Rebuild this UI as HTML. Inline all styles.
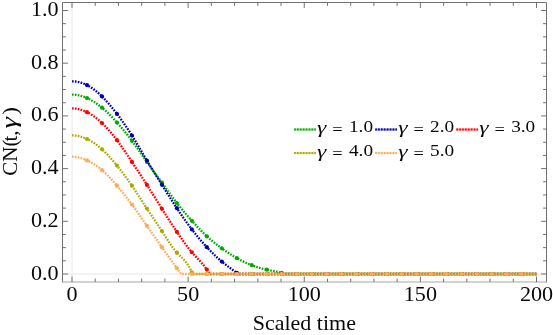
<!DOCTYPE html>
<html><head><meta charset="utf-8"><title>Chart</title>
<style>html,body{margin:0;padding:0;background:#fff;}body{width:553px;height:335px;overflow:hidden;font-family:"Liberation Serif",serif;}svg{display:block;}.t text,.t tspan{font-family:"Liberation Serif",serif;}</style></head>
<body>
<svg width="553" height="335" viewBox="0 0 553 335">
<rect width="553" height="335" fill="#fff"/>
<line x1="72.0" y1="2.5" x2="72.0" y2="282.0" stroke="#e8e8e8" stroke-width="1"/>
<line x1="62.5" y1="274.0" x2="546.5" y2="274.0" stroke="#e8e8e8" stroke-width="1"/>
<path d="M72.00,94.60 L72.50,94.60 L73.00,94.62 L73.50,94.64 L74.00,94.67 L74.50,94.70 L75.00,94.75 L75.50,94.80 L76.00,94.86 L76.50,94.93 L77.00,95.01 L77.50,95.10 L78.00,95.19 L78.50,95.29 L79.00,95.40 L79.50,95.51 L80.00,95.64 L80.50,95.77 L81.00,95.90 L81.50,96.05 L82.00,96.20 L82.50,96.36 L83.00,96.53 L83.50,96.70 L84.00,96.88 L84.50,97.07 L85.00,97.26 L85.50,97.46 L86.00,97.67 L86.50,97.89 L87.00,98.11 L87.50,98.33 L88.00,98.57 L88.50,98.81 L89.00,99.06 L89.50,99.31 L90.00,99.57 L90.50,99.84 L91.00,100.11 L91.50,100.39 L92.00,100.67 L92.50,100.97 L93.00,101.26 L93.50,101.57 L94.00,101.88 L94.50,102.20 L95.00,102.52 L95.50,102.85 L96.00,103.19 L96.50,103.53 L97.00,103.88 L97.50,104.24 L98.00,104.60 L98.50,104.97 L99.00,105.35 L99.50,105.73 L100.00,106.11 L100.50,106.51 L101.00,106.91 L101.50,107.31 L102.00,107.73 L102.50,108.15 L103.00,108.57 L103.50,109.00 L104.00,109.44 L104.50,109.88 L105.00,110.33 L105.50,110.78 L106.00,111.24 L106.50,111.71 L107.00,112.18 L107.50,112.66 L108.00,113.14 L108.50,113.62 L109.00,114.11 L109.50,114.61 L110.00,115.11 L110.50,115.61 L111.00,116.12 L111.50,116.64 L112.00,117.16 L112.50,117.68 L113.00,118.21 L113.50,118.74 L114.00,119.27 L114.50,119.81 L115.00,120.35 L115.50,120.90 L116.00,121.45 L116.50,122.00 L117.00,122.55 L117.50,123.11 L118.00,123.68 L118.50,124.24 L119.00,124.81 L119.50,125.38 L120.00,125.96 L120.50,126.54 L121.00,127.12 L121.50,127.71 L122.00,128.29 L122.50,128.89 L123.00,129.48 L123.50,130.09 L124.00,130.69 L124.50,131.30 L125.00,131.91 L125.50,132.52 L126.00,133.14 L126.50,133.77 L127.00,134.39 L127.50,135.02 L128.00,135.66 L128.50,136.30 L129.00,136.94 L129.50,137.59 L130.00,138.24 L130.50,138.89 L131.00,139.55 L131.50,140.22 L132.00,140.89 L132.50,141.56 L133.00,142.24 L133.50,142.92 L134.00,143.60 L134.50,144.29 L135.00,144.98 L135.50,145.67 L136.00,146.37 L136.50,147.07 L137.00,147.77 L137.50,148.47 L138.00,149.18 L138.50,149.89 L139.00,150.60 L139.50,151.31 L140.00,152.02 L140.50,152.73 L141.00,153.45 L141.50,154.16 L142.00,154.88 L142.50,155.59 L143.00,156.31 L143.50,157.03 L144.00,157.74 L144.50,158.46 L145.00,159.17 L145.50,159.88 L146.00,160.59 L146.50,161.31 L147.00,162.01 L147.50,162.72 L148.00,163.43 L148.50,164.13 L149.00,164.83 L149.50,165.53 L150.00,166.23 L150.50,166.93 L151.00,167.63 L151.50,168.33 L152.00,169.02 L152.50,169.72 L153.00,170.41 L153.50,171.10 L154.00,171.80 L154.50,172.49 L155.00,173.18 L155.50,173.87 L156.00,174.56 L156.50,175.25 L157.00,175.94 L157.50,176.63 L158.00,177.32 L158.50,178.00 L159.00,178.69 L159.50,179.38 L160.00,180.07 L160.50,180.76 L161.00,181.45 L161.50,182.14 L162.00,182.83 L162.50,183.53 L163.00,184.22 L163.50,184.91 L164.00,185.60 L164.50,186.29 L165.00,186.99 L165.50,187.68 L166.00,188.37 L166.50,189.06 L167.00,189.75 L167.50,190.44 L168.00,191.13 L168.50,191.81 L169.00,192.50 L169.50,193.18 L170.00,193.86 L170.50,194.54 L171.00,195.22 L171.50,195.90 L172.00,196.57 L172.50,197.24 L173.00,197.91 L173.50,198.58 L174.00,199.24 L174.50,199.90 L175.00,200.55 L175.50,201.21 L176.00,201.86 L176.50,202.50 L177.00,203.14 L177.50,203.78 L178.00,204.42 L178.50,205.05 L179.00,205.67 L179.50,206.30 L180.00,206.92 L180.50,207.53 L181.00,208.15 L181.50,208.75 L182.00,209.36 L182.50,209.96 L183.00,210.56 L183.50,211.16 L184.00,211.76 L184.50,212.35 L185.00,212.94 L185.50,213.52 L186.00,214.11 L186.50,214.69 L187.00,215.27 L187.50,215.84 L188.00,216.42 L188.50,216.99 L189.00,217.56 L189.50,218.13 L190.00,218.70 L190.50,219.26 L191.00,219.82 L191.50,220.38 L192.00,220.94 L192.50,221.50 L193.00,222.06 L193.50,222.61 L194.00,223.17 L194.50,223.72 L195.00,224.27 L195.50,224.81 L196.00,225.36 L196.50,225.90 L197.00,226.44 L197.50,226.98 L198.00,227.51 L198.50,228.04 L199.00,228.57 L199.50,229.09 L200.00,229.61 L200.50,230.13 L201.00,230.64 L201.50,231.15 L202.00,231.66 L202.50,232.16 L203.00,232.66 L203.50,233.15 L204.00,233.64 L204.50,234.13 L205.00,234.61 L205.50,235.09 L206.00,235.56 L206.50,236.02 L207.00,236.48 L207.50,236.94 L208.00,237.39 L208.50,237.84 L209.00,238.28 L209.50,238.71 L210.00,239.14 L210.50,239.57 L211.00,239.99 L211.50,240.41 L212.00,240.83 L212.50,241.24 L213.00,241.65 L213.50,242.05 L214.00,242.45 L214.50,242.85 L215.00,243.24 L215.50,243.63 L216.00,244.02 L216.50,244.40 L217.00,244.78 L217.50,245.16 L218.00,245.54 L218.50,245.91 L219.00,246.28 L219.50,246.65 L220.00,247.02 L220.50,247.38 L221.00,247.74 L221.50,248.11 L222.00,248.47 L222.50,248.82 L223.00,249.18 L223.50,249.54 L224.00,249.89 L224.50,250.24 L225.00,250.59 L225.50,250.94 L226.00,251.28 L226.50,251.63 L227.00,251.97 L227.50,252.31 L228.00,252.65 L228.50,252.98 L229.00,253.31 L229.50,253.64 L230.00,253.97 L230.50,254.30 L231.00,254.62 L231.50,254.94 L232.00,255.25 L232.50,255.57 L233.00,255.88 L233.50,256.19 L234.00,256.49 L234.50,256.79 L235.00,257.09 L235.50,257.39 L236.00,257.68 L236.50,257.97 L237.00,258.25 L237.50,258.53 L238.00,258.81 L238.50,259.08 L239.00,259.35 L239.50,259.62 L240.00,259.88 L240.50,260.15 L241.00,260.40 L241.50,260.66 L242.00,260.91 L242.50,261.15 L243.00,261.40 L243.50,261.64 L244.00,261.88 L244.50,262.11 L245.00,262.34 L245.50,262.57 L246.00,262.80 L246.50,263.02 L247.00,263.24 L247.50,263.45 L248.00,263.67 L248.50,263.88 L249.00,264.09 L249.50,264.29 L250.00,264.49 L250.50,264.69 L251.00,264.89 L251.50,265.08 L252.00,265.27 L252.50,265.46 L253.00,265.65 L253.50,265.83 L254.00,266.01 L254.50,266.19 L255.00,266.36 L255.50,266.54 L256.00,266.71 L256.50,266.87 L257.00,267.04 L257.50,267.20 L258.00,267.36 L258.50,267.51 L259.00,267.67 L259.50,267.82 L260.00,267.96 L260.50,268.11 L261.00,268.25 L261.50,268.39 L262.00,268.53 L262.50,268.66 L263.00,268.79 L263.50,268.92 L264.00,269.05 L264.50,269.17 L265.00,269.29 L265.50,269.41 L266.00,269.52 L266.50,269.64 L267.00,269.75 L267.50,269.85 L268.00,269.96 L268.50,270.06 L269.00,270.16 L269.50,270.26 L270.00,270.35 L270.50,270.45 L271.00,270.55 L271.50,270.64 L272.00,270.73 L272.50,270.83 L273.00,270.92 L273.50,271.02 L274.00,271.11 L274.50,271.21 L275.00,271.31 L275.50,271.41 L276.00,271.51 L276.50,271.61 L277.00,271.72 L277.50,271.83 L278.00,271.94 L278.50,272.05 L279.00,272.17 L279.50,272.29 L280.00,272.42 L280.50,272.55 L281.00,272.68 L281.50,272.82 L282.00,272.97 L282.50,273.11 L283.00,273.27 L283.50,273.42 L284.00,273.58 L284.50,273.74 L285.00,273.90 L285.30,274.00 L536.50,274.00" fill="none" stroke="#00AA00" stroke-width="2.3" stroke-dasharray="1.65 1.25"/>
<circle cx="86.98" cy="98.10" r="2.1" fill="#00AA00"/>
<circle cx="101.97" cy="107.70" r="2.1" fill="#00AA00"/>
<circle cx="116.95" cy="122.50" r="2.1" fill="#00AA00"/>
<circle cx="131.94" cy="140.80" r="2.1" fill="#00AA00"/>
<circle cx="146.92" cy="161.90" r="2.1" fill="#00AA00"/>
<circle cx="161.90" cy="182.70" r="2.1" fill="#00AA00"/>
<circle cx="176.89" cy="203.00" r="2.1" fill="#00AA00"/>
<circle cx="191.87" cy="220.80" r="2.1" fill="#00AA00"/>
<circle cx="206.85" cy="236.35" r="2.1" fill="#00AA00"/>
<circle cx="221.84" cy="248.35" r="2.1" fill="#00AA00"/>
<circle cx="236.82" cy="258.15" r="2.1" fill="#00AA00"/>
<circle cx="251.81" cy="265.20" r="2.1" fill="#00AA00"/>
<circle cx="266.79" cy="269.70" r="2.1" fill="#00AA00"/>
<circle cx="281.77" cy="272.90" r="2.1" fill="#00AA00"/>
<circle cx="296.76" cy="274.00" r="2.1" fill="#00AA00"/>
<circle cx="311.74" cy="274.00" r="2.1" fill="#00AA00"/>
<circle cx="326.73" cy="274.00" r="2.1" fill="#00AA00"/>
<circle cx="341.71" cy="274.00" r="2.1" fill="#00AA00"/>
<circle cx="356.69" cy="274.00" r="2.1" fill="#00AA00"/>
<circle cx="371.68" cy="274.00" r="2.1" fill="#00AA00"/>
<circle cx="386.66" cy="274.00" r="2.1" fill="#00AA00"/>
<circle cx="401.65" cy="274.00" r="2.1" fill="#00AA00"/>
<circle cx="416.63" cy="274.00" r="2.1" fill="#00AA00"/>
<circle cx="431.61" cy="274.00" r="2.1" fill="#00AA00"/>
<circle cx="446.60" cy="274.00" r="2.1" fill="#00AA00"/>
<circle cx="461.58" cy="274.00" r="2.1" fill="#00AA00"/>
<circle cx="476.56" cy="274.00" r="2.1" fill="#00AA00"/>
<circle cx="491.55" cy="274.00" r="2.1" fill="#00AA00"/>
<circle cx="506.53" cy="274.00" r="2.1" fill="#00AA00"/>
<circle cx="521.52" cy="274.00" r="2.1" fill="#00AA00"/>
<path d="M72.00,81.30 L72.50,81.30 L73.00,81.32 L73.50,81.34 L74.00,81.37 L74.50,81.41 L75.00,81.45 L75.50,81.51 L76.00,81.57 L76.50,81.64 L77.00,81.72 L77.50,81.81 L78.00,81.91 L78.50,82.01 L79.00,82.13 L79.50,82.25 L80.00,82.38 L80.50,82.52 L81.00,82.67 L81.50,82.82 L82.00,82.99 L82.50,83.16 L83.00,83.34 L83.50,83.53 L84.00,83.73 L84.50,83.94 L85.00,84.16 L85.50,84.38 L86.00,84.62 L86.50,84.86 L87.00,85.11 L87.50,85.37 L88.00,85.64 L88.50,85.91 L89.00,86.20 L89.50,86.49 L90.00,86.79 L90.50,87.10 L91.00,87.42 L91.50,87.75 L92.00,88.08 L92.50,88.42 L93.00,88.77 L93.50,89.13 L94.00,89.50 L94.50,89.88 L95.00,90.26 L95.50,90.65 L96.00,91.05 L96.50,91.45 L97.00,91.87 L97.50,92.29 L98.00,92.72 L98.50,93.16 L99.00,93.60 L99.50,94.06 L100.00,94.52 L100.50,94.98 L101.00,95.46 L101.50,95.94 L102.00,96.43 L102.50,96.93 L103.00,97.43 L103.50,97.94 L104.00,98.46 L104.50,98.99 L105.00,99.52 L105.50,100.06 L106.00,100.60 L106.50,101.15 L107.00,101.71 L107.50,102.27 L108.00,102.84 L108.50,103.42 L109.00,104.00 L109.50,104.59 L110.00,105.18 L110.50,105.78 L111.00,106.38 L111.50,106.98 L112.00,107.60 L112.50,108.21 L113.00,108.84 L113.50,109.46 L114.00,110.09 L114.50,110.73 L115.00,111.37 L115.50,112.01 L116.00,112.66 L116.50,113.31 L117.00,113.96 L117.50,114.62 L118.00,115.28 L118.50,115.95 L119.00,116.62 L119.50,117.29 L120.00,117.97 L120.50,118.65 L121.00,119.34 L121.50,120.03 L122.00,120.72 L122.50,121.42 L123.00,122.12 L123.50,122.83 L124.00,123.54 L124.50,124.26 L125.00,124.98 L125.50,125.70 L126.00,126.43 L126.50,127.17 L127.00,127.91 L127.50,128.66 L128.00,129.41 L128.50,130.16 L129.00,130.92 L129.50,131.69 L130.00,132.46 L130.50,133.24 L131.00,134.02 L131.50,134.81 L132.00,135.60 L132.50,136.40 L133.00,137.21 L133.50,138.02 L134.00,138.83 L134.50,139.65 L135.00,140.48 L135.50,141.30 L136.00,142.14 L136.50,142.97 L137.00,143.81 L137.50,144.65 L138.00,145.49 L138.50,146.34 L139.00,147.18 L139.50,148.03 L140.00,148.88 L140.50,149.73 L141.00,150.58 L141.50,151.43 L142.00,152.29 L142.50,153.14 L143.00,153.99 L143.50,154.84 L144.00,155.69 L144.50,156.53 L145.00,157.38 L145.50,158.22 L146.00,159.06 L146.50,159.90 L147.00,160.73 L147.50,161.57 L148.00,162.39 L148.50,163.22 L149.00,164.04 L149.50,164.86 L150.00,165.68 L150.50,166.50 L151.00,167.31 L151.50,168.12 L152.00,168.93 L152.50,169.73 L153.00,170.54 L153.50,171.34 L154.00,172.14 L154.50,172.94 L155.00,173.74 L155.50,174.54 L156.00,175.34 L156.50,176.13 L157.00,176.93 L157.50,177.72 L158.00,178.51 L158.50,179.31 L159.00,180.10 L159.50,180.89 L160.00,181.68 L160.50,182.47 L161.00,183.27 L161.50,184.06 L162.00,184.85 L162.50,185.65 L163.00,186.44 L163.50,187.24 L164.00,188.03 L164.50,188.83 L165.00,189.62 L165.50,190.41 L166.00,191.21 L166.50,192.00 L167.00,192.80 L167.50,193.59 L168.00,194.38 L168.50,195.17 L169.00,195.96 L169.50,196.75 L170.00,197.54 L170.50,198.32 L171.00,199.11 L171.50,199.89 L172.00,200.67 L172.50,201.45 L173.00,202.23 L173.50,203.01 L174.00,203.78 L174.50,204.55 L175.00,205.32 L175.50,206.09 L176.00,206.85 L176.50,207.61 L177.00,208.37 L177.50,209.13 L178.00,209.88 L178.50,210.63 L179.00,211.37 L179.50,212.12 L180.00,212.86 L180.50,213.59 L181.00,214.33 L181.50,215.06 L182.00,215.78 L182.50,216.51 L183.00,217.23 L183.50,217.94 L184.00,218.66 L184.50,219.37 L185.00,220.07 L185.50,220.77 L186.00,221.47 L186.50,222.17 L187.00,222.86 L187.50,223.55 L188.00,224.23 L188.50,224.91 L189.00,225.59 L189.50,226.26 L190.00,226.93 L190.50,227.60 L191.00,228.26 L191.50,228.92 L192.00,229.57 L192.50,230.22 L193.00,230.86 L193.50,231.50 L194.00,232.14 L194.50,232.77 L195.00,233.40 L195.50,234.03 L196.00,234.65 L196.50,235.26 L197.00,235.88 L197.50,236.49 L198.00,237.09 L198.50,237.69 L199.00,238.29 L199.50,238.89 L200.00,239.48 L200.50,240.06 L201.00,240.65 L201.50,241.22 L202.00,241.80 L202.50,242.37 L203.00,242.94 L203.50,243.50 L204.00,244.07 L204.50,244.62 L205.00,245.18 L205.50,245.73 L206.00,246.27 L206.50,246.82 L207.00,247.36 L207.50,247.89 L208.00,248.43 L208.50,248.95 L209.00,249.48 L209.50,250.00 L210.00,250.52 L210.50,251.03 L211.00,251.54 L211.50,252.05 L212.00,252.55 L212.50,253.05 L213.00,253.55 L213.50,254.04 L214.00,254.53 L214.50,255.01 L215.00,255.49 L215.50,255.96 L216.00,256.43 L216.50,256.90 L217.00,257.36 L217.50,257.82 L218.00,258.27 L218.50,258.72 L219.00,259.16 L219.50,259.60 L220.00,260.04 L220.50,260.47 L221.00,260.90 L221.50,261.32 L222.00,261.73 L222.50,262.15 L223.00,262.55 L223.50,262.96 L224.00,263.36 L224.50,263.75 L225.00,264.14 L225.50,264.53 L226.00,264.92 L226.50,265.30 L227.00,265.68 L227.50,266.06 L228.00,266.43 L228.50,266.80 L229.00,267.18 L229.50,267.54 L230.00,267.91 L230.50,268.28 L231.00,268.64 L231.50,269.01 L232.00,269.37 L232.50,269.74 L233.00,270.10 L233.50,270.46 L234.00,270.83 L234.50,271.19 L235.00,271.56 L235.50,271.93 L236.00,272.29 L236.50,272.66 L237.00,273.03 L237.50,273.40 L238.00,273.78 L238.30,274.00 L536.50,274.00" fill="none" stroke="#0000AA" stroke-width="2.3" stroke-dasharray="1.65 1.25"/>
<circle cx="86.98" cy="85.10" r="2.1" fill="#0000AA"/>
<circle cx="101.97" cy="96.40" r="2.1" fill="#0000AA"/>
<circle cx="116.95" cy="113.90" r="2.1" fill="#0000AA"/>
<circle cx="131.94" cy="135.50" r="2.1" fill="#0000AA"/>
<circle cx="146.92" cy="160.60" r="2.1" fill="#0000AA"/>
<circle cx="161.90" cy="184.70" r="2.1" fill="#0000AA"/>
<circle cx="176.89" cy="208.20" r="2.1" fill="#0000AA"/>
<circle cx="191.87" cy="229.40" r="2.1" fill="#0000AA"/>
<circle cx="206.85" cy="247.20" r="2.1" fill="#0000AA"/>
<circle cx="221.84" cy="261.60" r="2.1" fill="#0000AA"/>
<circle cx="236.82" cy="272.90" r="2.1" fill="#0000AA"/>
<circle cx="251.81" cy="274.00" r="2.1" fill="#0000AA"/>
<circle cx="266.79" cy="274.00" r="2.1" fill="#0000AA"/>
<circle cx="281.77" cy="274.00" r="2.1" fill="#0000AA"/>
<circle cx="296.76" cy="274.00" r="2.1" fill="#0000AA"/>
<circle cx="311.74" cy="274.00" r="2.1" fill="#0000AA"/>
<circle cx="326.73" cy="274.00" r="2.1" fill="#0000AA"/>
<circle cx="341.71" cy="274.00" r="2.1" fill="#0000AA"/>
<circle cx="356.69" cy="274.00" r="2.1" fill="#0000AA"/>
<circle cx="371.68" cy="274.00" r="2.1" fill="#0000AA"/>
<circle cx="386.66" cy="274.00" r="2.1" fill="#0000AA"/>
<circle cx="401.65" cy="274.00" r="2.1" fill="#0000AA"/>
<circle cx="416.63" cy="274.00" r="2.1" fill="#0000AA"/>
<circle cx="431.61" cy="274.00" r="2.1" fill="#0000AA"/>
<circle cx="446.60" cy="274.00" r="2.1" fill="#0000AA"/>
<circle cx="461.58" cy="274.00" r="2.1" fill="#0000AA"/>
<circle cx="476.56" cy="274.00" r="2.1" fill="#0000AA"/>
<circle cx="491.55" cy="274.00" r="2.1" fill="#0000AA"/>
<circle cx="506.53" cy="274.00" r="2.1" fill="#0000AA"/>
<circle cx="521.52" cy="274.00" r="2.1" fill="#0000AA"/>
<path d="M72.00,108.40 L72.50,108.40 L73.00,108.42 L73.50,108.44 L74.00,108.47 L74.50,108.51 L75.00,108.56 L75.50,108.61 L76.00,108.68 L76.50,108.75 L77.00,108.84 L77.50,108.93 L78.00,109.03 L78.50,109.13 L79.00,109.25 L79.50,109.37 L80.00,109.51 L80.50,109.65 L81.00,109.80 L81.50,109.95 L82.00,110.12 L82.50,110.29 L83.00,110.47 L83.50,110.66 L84.00,110.86 L84.50,111.07 L85.00,111.28 L85.50,111.50 L86.00,111.73 L86.50,111.96 L87.00,112.21 L87.50,112.46 L88.00,112.72 L88.50,112.99 L89.00,113.26 L89.50,113.54 L90.00,113.83 L90.50,114.13 L91.00,114.44 L91.50,114.75 L92.00,115.07 L92.50,115.40 L93.00,115.73 L93.50,116.07 L94.00,116.42 L94.50,116.78 L95.00,117.15 L95.50,117.52 L96.00,117.90 L96.50,118.29 L97.00,118.68 L97.50,119.08 L98.00,119.49 L98.50,119.91 L99.00,120.33 L99.50,120.76 L100.00,121.20 L100.50,121.65 L101.00,122.10 L101.50,122.56 L102.00,123.03 L102.50,123.51 L103.00,123.99 L103.50,124.48 L104.00,124.97 L104.50,125.48 L105.00,125.99 L105.50,126.50 L106.00,127.03 L106.50,127.56 L107.00,128.10 L107.50,128.64 L108.00,129.19 L108.50,129.75 L109.00,130.32 L109.50,130.89 L110.00,131.47 L110.50,132.05 L111.00,132.64 L111.50,133.24 L112.00,133.84 L112.50,134.45 L113.00,135.07 L113.50,135.69 L114.00,136.32 L114.50,136.95 L115.00,137.59 L115.50,138.24 L116.00,138.89 L116.50,139.55 L117.00,140.21 L117.50,140.88 L118.00,141.56 L118.50,142.24 L119.00,142.93 L119.50,143.62 L120.00,144.31 L120.50,145.02 L121.00,145.72 L121.50,146.43 L122.00,147.14 L122.50,147.86 L123.00,148.58 L123.50,149.31 L124.00,150.04 L124.50,150.77 L125.00,151.50 L125.50,152.24 L126.00,152.98 L126.50,153.72 L127.00,154.47 L127.50,155.21 L128.00,155.96 L128.50,156.71 L129.00,157.47 L129.50,158.22 L130.00,158.97 L130.50,159.73 L131.00,160.48 L131.50,161.24 L132.00,162.00 L132.50,162.75 L133.00,163.51 L133.50,164.27 L134.00,165.03 L134.50,165.79 L135.00,166.55 L135.50,167.31 L136.00,168.07 L136.50,168.83 L137.00,169.59 L137.50,170.35 L138.00,171.11 L138.50,171.88 L139.00,172.64 L139.50,173.41 L140.00,174.17 L140.50,174.94 L141.00,175.71 L141.50,176.48 L142.00,177.25 L142.50,178.02 L143.00,178.79 L143.50,179.57 L144.00,180.34 L144.50,181.12 L145.00,181.90 L145.50,182.68 L146.00,183.46 L146.50,184.24 L147.00,185.03 L147.50,185.81 L148.00,186.60 L148.50,187.39 L149.00,188.18 L149.50,188.97 L150.00,189.76 L150.50,190.56 L151.00,191.35 L151.50,192.15 L152.00,192.94 L152.50,193.74 L153.00,194.54 L153.50,195.34 L154.00,196.13 L154.50,196.93 L155.00,197.73 L155.50,198.53 L156.00,199.33 L156.50,200.13 L157.00,200.93 L157.50,201.73 L158.00,202.53 L158.50,203.33 L159.00,204.13 L159.50,204.92 L160.00,205.72 L160.50,206.52 L161.00,207.31 L161.50,208.11 L162.00,208.90 L162.50,209.70 L163.00,210.49 L163.50,211.28 L164.00,212.07 L164.50,212.86 L165.00,213.64 L165.50,214.43 L166.00,215.22 L166.50,216.00 L167.00,216.78 L167.50,217.56 L168.00,218.34 L168.50,219.12 L169.00,219.89 L169.50,220.67 L170.00,221.44 L170.50,222.21 L171.00,222.98 L171.50,223.75 L172.00,224.51 L172.50,225.28 L173.00,226.04 L173.50,226.80 L174.00,227.56 L174.50,228.32 L175.00,229.07 L175.50,229.82 L176.00,230.57 L176.50,231.32 L177.00,232.07 L177.50,232.81 L178.00,233.55 L178.50,234.29 L179.00,235.03 L179.50,235.76 L180.00,236.49 L180.50,237.22 L181.00,237.94 L181.50,238.65 L182.00,239.37 L182.50,240.08 L183.00,240.78 L183.50,241.48 L184.00,242.18 L184.50,242.86 L185.00,243.55 L185.50,244.22 L186.00,244.90 L186.50,245.56 L187.00,246.22 L187.50,246.87 L188.00,247.52 L188.50,248.15 L189.00,248.78 L189.50,249.41 L190.00,250.02 L190.50,250.63 L191.00,251.23 L191.50,251.82 L192.00,252.40 L192.50,252.97 L193.00,253.54 L193.50,254.09 L194.00,254.65 L194.50,255.19 L195.00,255.74 L195.50,256.28 L196.00,256.81 L196.50,257.35 L197.00,257.88 L197.50,258.42 L198.00,258.95 L198.50,259.49 L199.00,260.03 L199.50,260.58 L200.00,261.13 L200.50,261.68 L201.00,262.24 L201.50,262.81 L202.00,263.39 L202.50,263.97 L203.00,264.57 L203.50,265.18 L204.00,265.80 L204.50,266.43 L205.00,267.07 L205.50,267.73 L206.00,268.41 L206.50,269.10 L207.00,269.81 L207.50,270.53 L208.00,271.27 L208.50,272.02 L209.00,272.78 L209.50,273.54 L209.80,274.00 L536.50,274.00" fill="none" stroke="#FF0000" stroke-width="2.3" stroke-dasharray="1.65 1.25"/>
<circle cx="86.98" cy="112.20" r="2.1" fill="#FF0000"/>
<circle cx="101.97" cy="123.00" r="2.1" fill="#FF0000"/>
<circle cx="116.95" cy="140.15" r="2.1" fill="#FF0000"/>
<circle cx="131.94" cy="161.90" r="2.1" fill="#FF0000"/>
<circle cx="146.92" cy="184.90" r="2.1" fill="#FF0000"/>
<circle cx="161.90" cy="208.75" r="2.1" fill="#FF0000"/>
<circle cx="176.89" cy="231.90" r="2.1" fill="#FF0000"/>
<circle cx="191.87" cy="252.25" r="2.1" fill="#FF0000"/>
<circle cx="206.85" cy="269.60" r="2.1" fill="#FF0000"/>
<circle cx="221.84" cy="274.00" r="2.1" fill="#FF0000"/>
<circle cx="236.82" cy="274.00" r="2.1" fill="#FF0000"/>
<circle cx="251.81" cy="274.00" r="2.1" fill="#FF0000"/>
<circle cx="266.79" cy="274.00" r="2.1" fill="#FF0000"/>
<circle cx="281.77" cy="274.00" r="2.1" fill="#FF0000"/>
<circle cx="296.76" cy="274.00" r="2.1" fill="#FF0000"/>
<circle cx="311.74" cy="274.00" r="2.1" fill="#FF0000"/>
<circle cx="326.73" cy="274.00" r="2.1" fill="#FF0000"/>
<circle cx="341.71" cy="274.00" r="2.1" fill="#FF0000"/>
<circle cx="356.69" cy="274.00" r="2.1" fill="#FF0000"/>
<circle cx="371.68" cy="274.00" r="2.1" fill="#FF0000"/>
<circle cx="386.66" cy="274.00" r="2.1" fill="#FF0000"/>
<circle cx="401.65" cy="274.00" r="2.1" fill="#FF0000"/>
<circle cx="416.63" cy="274.00" r="2.1" fill="#FF0000"/>
<circle cx="431.61" cy="274.00" r="2.1" fill="#FF0000"/>
<circle cx="446.60" cy="274.00" r="2.1" fill="#FF0000"/>
<circle cx="461.58" cy="274.00" r="2.1" fill="#FF0000"/>
<circle cx="476.56" cy="274.00" r="2.1" fill="#FF0000"/>
<circle cx="491.55" cy="274.00" r="2.1" fill="#FF0000"/>
<circle cx="506.53" cy="274.00" r="2.1" fill="#FF0000"/>
<circle cx="521.52" cy="274.00" r="2.1" fill="#FF0000"/>
<path d="M72.00,135.40 L72.50,135.40 L73.00,135.42 L73.50,135.44 L74.00,135.47 L74.50,135.50 L75.00,135.55 L75.50,135.60 L76.00,135.67 L76.50,135.74 L77.00,135.81 L77.50,135.90 L78.00,135.99 L78.50,136.10 L79.00,136.21 L79.50,136.32 L80.00,136.45 L80.50,136.58 L81.00,136.72 L81.50,136.87 L82.00,137.03 L82.50,137.19 L83.00,137.36 L83.50,137.54 L84.00,137.73 L84.50,137.93 L85.00,138.13 L85.50,138.34 L86.00,138.55 L86.50,138.78 L87.00,139.01 L87.50,139.25 L88.00,139.49 L88.50,139.74 L89.00,140.00 L89.50,140.27 L90.00,140.55 L90.50,140.83 L91.00,141.12 L91.50,141.41 L92.00,141.72 L92.50,142.03 L93.00,142.35 L93.50,142.67 L94.00,143.01 L94.50,143.35 L95.00,143.69 L95.50,144.05 L96.00,144.41 L96.50,144.78 L97.00,145.16 L97.50,145.54 L98.00,145.93 L98.50,146.33 L99.00,146.74 L99.50,147.15 L100.00,147.57 L100.50,148.00 L101.00,148.44 L101.50,148.88 L102.00,149.33 L102.50,149.79 L103.00,150.25 L103.50,150.72 L104.00,151.20 L104.50,151.69 L105.00,152.18 L105.50,152.68 L106.00,153.18 L106.50,153.70 L107.00,154.21 L107.50,154.74 L108.00,155.27 L108.50,155.80 L109.00,156.34 L109.50,156.89 L110.00,157.44 L110.50,158.00 L111.00,158.56 L111.50,159.13 L112.00,159.70 L112.50,160.28 L113.00,160.86 L113.50,161.44 L114.00,162.03 L114.50,162.63 L115.00,163.23 L115.50,163.83 L116.00,164.44 L116.50,165.05 L117.00,165.66 L117.50,166.28 L118.00,166.90 L118.50,167.52 L119.00,168.15 L119.50,168.78 L120.00,169.41 L120.50,170.05 L121.00,170.69 L121.50,171.34 L122.00,171.99 L122.50,172.64 L123.00,173.30 L123.50,173.96 L124.00,174.62 L124.50,175.29 L125.00,175.96 L125.50,176.64 L126.00,177.32 L126.50,178.00 L127.00,178.69 L127.50,179.38 L128.00,180.08 L128.50,180.78 L129.00,181.48 L129.50,182.19 L130.00,182.90 L130.50,183.62 L131.00,184.34 L131.50,185.06 L132.00,185.79 L132.50,186.53 L133.00,187.27 L133.50,188.01 L134.00,188.75 L134.50,189.50 L135.00,190.26 L135.50,191.01 L136.00,191.77 L136.50,192.53 L137.00,193.29 L137.50,194.06 L138.00,194.82 L138.50,195.59 L139.00,196.36 L139.50,197.13 L140.00,197.90 L140.50,198.68 L141.00,199.45 L141.50,200.22 L142.00,200.99 L142.50,201.77 L143.00,202.54 L143.50,203.31 L144.00,204.08 L144.50,204.85 L145.00,205.62 L145.50,206.38 L146.00,207.15 L146.50,207.91 L147.00,208.67 L147.50,209.43 L148.00,210.19 L148.50,210.94 L149.00,211.69 L149.50,212.44 L150.00,213.19 L150.50,213.94 L151.00,214.68 L151.50,215.43 L152.00,216.17 L152.50,216.92 L153.00,217.66 L153.50,218.41 L154.00,219.15 L154.50,219.90 L155.00,220.64 L155.50,221.39 L156.00,222.14 L156.50,222.88 L157.00,223.63 L157.50,224.38 L158.00,225.14 L158.50,225.89 L159.00,226.65 L159.50,227.41 L160.00,228.17 L160.50,228.94 L161.00,229.70 L161.50,230.48 L162.00,231.25 L162.50,232.03 L163.00,232.81 L163.50,233.59 L164.00,234.37 L164.50,235.16 L165.00,235.94 L165.50,236.73 L166.00,237.51 L166.50,238.29 L167.00,239.06 L167.50,239.83 L168.00,240.60 L168.50,241.36 L169.00,242.12 L169.50,242.87 L170.00,243.61 L170.50,244.34 L171.00,245.06 L171.50,245.78 L172.00,246.48 L172.50,247.17 L173.00,247.85 L173.50,248.52 L174.00,249.17 L174.50,249.81 L175.00,250.44 L175.50,251.05 L176.00,251.64 L176.50,252.22 L177.00,252.77 L177.50,253.31 L178.00,253.84 L178.50,254.35 L179.00,254.85 L179.50,255.35 L180.00,255.84 L180.50,256.32 L181.00,256.81 L181.50,257.30 L182.00,257.79 L182.50,258.29 L183.00,258.80 L183.50,259.32 L184.00,259.86 L184.50,260.42 L185.00,261.00 L185.50,261.59 L186.00,262.22 L186.50,262.87 L187.00,263.55 L187.50,264.27 L188.00,265.02 L188.50,265.81 L189.00,266.63 L189.50,267.51 L190.00,268.42 L190.50,269.39 L191.00,270.40 L191.50,271.47 L192.00,272.60 L192.50,273.76 L192.60,274.00 L536.50,274.00" fill="none" stroke="#AAAA00" stroke-width="2.3" stroke-dasharray="1.65 1.25"/>
<circle cx="86.98" cy="139.00" r="2.1" fill="#AAAA00"/>
<circle cx="101.97" cy="149.30" r="2.1" fill="#AAAA00"/>
<circle cx="116.95" cy="165.60" r="2.1" fill="#AAAA00"/>
<circle cx="131.94" cy="185.70" r="2.1" fill="#AAAA00"/>
<circle cx="146.92" cy="208.55" r="2.1" fill="#AAAA00"/>
<circle cx="161.90" cy="231.10" r="2.1" fill="#AAAA00"/>
<circle cx="176.89" cy="252.65" r="2.1" fill="#AAAA00"/>
<circle cx="191.87" cy="272.30" r="2.1" fill="#AAAA00"/>
<circle cx="206.85" cy="274.00" r="2.1" fill="#AAAA00"/>
<circle cx="221.84" cy="274.00" r="2.1" fill="#AAAA00"/>
<circle cx="236.82" cy="274.00" r="2.1" fill="#AAAA00"/>
<circle cx="251.81" cy="274.00" r="2.1" fill="#AAAA00"/>
<circle cx="266.79" cy="274.00" r="2.1" fill="#AAAA00"/>
<circle cx="281.77" cy="274.00" r="2.1" fill="#AAAA00"/>
<circle cx="296.76" cy="274.00" r="2.1" fill="#AAAA00"/>
<circle cx="311.74" cy="274.00" r="2.1" fill="#AAAA00"/>
<circle cx="326.73" cy="274.00" r="2.1" fill="#AAAA00"/>
<circle cx="341.71" cy="274.00" r="2.1" fill="#AAAA00"/>
<circle cx="356.69" cy="274.00" r="2.1" fill="#AAAA00"/>
<circle cx="371.68" cy="274.00" r="2.1" fill="#AAAA00"/>
<circle cx="386.66" cy="274.00" r="2.1" fill="#AAAA00"/>
<circle cx="401.65" cy="274.00" r="2.1" fill="#AAAA00"/>
<circle cx="416.63" cy="274.00" r="2.1" fill="#AAAA00"/>
<circle cx="431.61" cy="274.00" r="2.1" fill="#AAAA00"/>
<circle cx="446.60" cy="274.00" r="2.1" fill="#AAAA00"/>
<circle cx="461.58" cy="274.00" r="2.1" fill="#AAAA00"/>
<circle cx="476.56" cy="274.00" r="2.1" fill="#AAAA00"/>
<circle cx="491.55" cy="274.00" r="2.1" fill="#AAAA00"/>
<circle cx="506.53" cy="274.00" r="2.1" fill="#AAAA00"/>
<circle cx="521.52" cy="274.00" r="2.1" fill="#AAAA00"/>
<path d="M72.00,156.60 L72.50,156.60 L73.00,156.62 L73.50,156.64 L74.00,156.68 L74.50,156.72 L75.00,156.77 L75.50,156.84 L76.00,156.91 L76.50,156.99 L77.00,157.07 L77.50,157.17 L78.00,157.28 L78.50,157.39 L79.00,157.51 L79.50,157.64 L80.00,157.78 L80.50,157.92 L81.00,158.07 L81.50,158.23 L82.00,158.40 L82.50,158.57 L83.00,158.75 L83.50,158.93 L84.00,159.13 L84.50,159.32 L85.00,159.53 L85.50,159.74 L86.00,159.96 L86.50,160.18 L87.00,160.41 L87.50,160.64 L88.00,160.88 L88.50,161.12 L89.00,161.37 L89.50,161.63 L90.00,161.89 L90.50,162.16 L91.00,162.43 L91.50,162.71 L92.00,163.00 L92.50,163.29 L93.00,163.59 L93.50,163.89 L94.00,164.20 L94.50,164.52 L95.00,164.84 L95.50,165.18 L96.00,165.51 L96.50,165.86 L97.00,166.21 L97.50,166.57 L98.00,166.93 L98.50,167.31 L99.00,167.69 L99.50,168.07 L100.00,168.47 L100.50,168.87 L101.00,169.28 L101.50,169.70 L102.00,170.13 L102.50,170.56 L103.00,171.00 L103.50,171.45 L104.00,171.91 L104.50,172.37 L105.00,172.84 L105.50,173.32 L106.00,173.80 L106.50,174.30 L107.00,174.79 L107.50,175.29 L108.00,175.80 L108.50,176.32 L109.00,176.84 L109.50,177.36 L110.00,177.89 L110.50,178.43 L111.00,178.97 L111.50,179.51 L112.00,180.06 L112.50,180.62 L113.00,181.17 L113.50,181.73 L114.00,182.30 L114.50,182.87 L115.00,183.44 L115.50,184.01 L116.00,184.59 L116.50,185.17 L117.00,185.76 L117.50,186.34 L118.00,186.93 L118.50,187.52 L119.00,188.11 L119.50,188.71 L120.00,189.31 L120.50,189.91 L121.00,190.51 L121.50,191.12 L122.00,191.73 L122.50,192.34 L123.00,192.96 L123.50,193.58 L124.00,194.20 L124.50,194.82 L125.00,195.45 L125.50,196.08 L126.00,196.71 L126.50,197.35 L127.00,197.99 L127.50,198.64 L128.00,199.28 L128.50,199.93 L129.00,200.59 L129.50,201.24 L130.00,201.91 L130.50,202.57 L131.00,203.24 L131.50,203.91 L132.00,204.59 L132.50,205.27 L133.00,205.95 L133.50,206.64 L134.00,207.33 L134.50,208.02 L135.00,208.72 L135.50,209.42 L136.00,210.12 L136.50,210.82 L137.00,211.53 L137.50,212.24 L138.00,212.95 L138.50,213.66 L139.00,214.38 L139.50,215.09 L140.00,215.81 L140.50,216.53 L141.00,217.25 L141.50,217.97 L142.00,218.69 L142.50,219.41 L143.00,220.13 L143.50,220.86 L144.00,221.58 L144.50,222.30 L145.00,223.03 L145.50,223.75 L146.00,224.47 L146.50,225.20 L147.00,225.92 L147.50,226.64 L148.00,227.36 L148.50,228.07 L149.00,228.79 L149.50,229.51 L150.00,230.23 L150.50,230.94 L151.00,231.66 L151.50,232.37 L152.00,233.09 L152.50,233.80 L153.00,234.51 L153.50,235.23 L154.00,235.94 L154.50,236.65 L155.00,237.36 L155.50,238.08 L156.00,238.79 L156.50,239.50 L157.00,240.21 L157.50,240.92 L158.00,241.64 L158.50,242.35 L159.00,243.06 L159.50,243.77 L160.00,244.48 L160.50,245.20 L161.00,245.91 L161.50,246.62 L162.00,247.34 L162.50,248.05 L163.00,248.77 L163.50,249.48 L164.00,250.20 L164.50,250.91 L165.00,251.63 L165.50,252.34 L166.00,253.05 L166.50,253.77 L167.00,254.48 L167.50,255.19 L168.00,255.90 L168.50,256.61 L169.00,257.32 L169.50,258.02 L170.00,258.73 L170.50,259.43 L171.00,260.13 L171.50,260.83 L172.00,261.53 L172.50,262.22 L173.00,262.91 L173.50,263.60 L174.00,264.29 L174.50,264.97 L175.00,265.66 L175.50,266.33 L176.00,267.01 L176.50,267.68 L177.00,268.35 L177.50,269.02 L178.00,269.68 L178.50,270.34 L179.00,270.99 L179.50,271.65 L180.00,272.30 L180.50,272.96 L181.00,273.61 L181.30,274.00 L536.50,274.00" fill="none" stroke="#FFAA55" stroke-width="2.3" stroke-dasharray="1.65 1.25"/>
<circle cx="86.98" cy="160.40" r="2.1" fill="#FFAA55"/>
<circle cx="101.97" cy="170.10" r="2.1" fill="#FFAA55"/>
<circle cx="116.95" cy="185.70" r="2.1" fill="#FFAA55"/>
<circle cx="131.94" cy="204.50" r="2.1" fill="#FFAA55"/>
<circle cx="146.92" cy="225.80" r="2.1" fill="#FFAA55"/>
<circle cx="161.90" cy="247.20" r="2.1" fill="#FFAA55"/>
<circle cx="176.89" cy="268.20" r="2.1" fill="#FFAA55"/>
<circle cx="191.87" cy="274.00" r="2.1" fill="#FFAA55"/>
<circle cx="206.85" cy="274.00" r="2.1" fill="#FFAA55"/>
<circle cx="221.84" cy="274.00" r="2.1" fill="#FFAA55"/>
<circle cx="236.82" cy="274.00" r="2.1" fill="#FFAA55"/>
<circle cx="251.81" cy="274.00" r="2.1" fill="#FFAA55"/>
<circle cx="266.79" cy="274.00" r="2.1" fill="#FFAA55"/>
<circle cx="281.77" cy="274.00" r="2.1" fill="#FFAA55"/>
<circle cx="296.76" cy="274.00" r="2.1" fill="#FFAA55"/>
<circle cx="311.74" cy="274.00" r="2.1" fill="#FFAA55"/>
<circle cx="326.73" cy="274.00" r="2.1" fill="#FFAA55"/>
<circle cx="341.71" cy="274.00" r="2.1" fill="#FFAA55"/>
<circle cx="356.69" cy="274.00" r="2.1" fill="#FFAA55"/>
<circle cx="371.68" cy="274.00" r="2.1" fill="#FFAA55"/>
<circle cx="386.66" cy="274.00" r="2.1" fill="#FFAA55"/>
<circle cx="401.65" cy="274.00" r="2.1" fill="#FFAA55"/>
<circle cx="416.63" cy="274.00" r="2.1" fill="#FFAA55"/>
<circle cx="431.61" cy="274.00" r="2.1" fill="#FFAA55"/>
<circle cx="446.60" cy="274.00" r="2.1" fill="#FFAA55"/>
<circle cx="461.58" cy="274.00" r="2.1" fill="#FFAA55"/>
<circle cx="476.56" cy="274.00" r="2.1" fill="#FFAA55"/>
<circle cx="491.55" cy="274.00" r="2.1" fill="#FFAA55"/>
<circle cx="506.53" cy="274.00" r="2.1" fill="#FFAA55"/>
<circle cx="521.52" cy="274.00" r="2.1" fill="#FFAA55"/>
<path d="M62.5,282.5 V2.5 H546.5 V282.5" fill="none" stroke="#707070" stroke-width="1"/>
<path d="M62.0,282.0 H547.0" fill="none" stroke="#a6a6a6" stroke-width="1"/>
<path d="M72.00,282.0 v-5.4 M72.00,2.5 v5.4 M95.22,282.0 v-3.4 M95.22,2.5 v3.4 M118.45,282.0 v-3.4 M118.45,2.5 v3.4 M141.68,282.0 v-3.4 M141.68,2.5 v3.4 M164.90,282.0 v-3.4 M164.90,2.5 v3.4 M188.12,282.0 v-5.4 M188.12,2.5 v5.4 M211.35,282.0 v-3.4 M211.35,2.5 v3.4 M234.57,282.0 v-3.4 M234.57,2.5 v3.4 M257.80,282.0 v-3.4 M257.80,2.5 v3.4 M281.02,282.0 v-3.4 M281.02,2.5 v3.4 M304.25,282.0 v-5.4 M304.25,2.5 v5.4 M327.47,282.0 v-3.4 M327.47,2.5 v3.4 M350.70,282.0 v-3.4 M350.70,2.5 v3.4 M373.92,282.0 v-3.4 M373.92,2.5 v3.4 M397.15,282.0 v-3.4 M397.15,2.5 v3.4 M420.37,282.0 v-5.4 M420.37,2.5 v5.4 M443.60,282.0 v-3.4 M443.60,2.5 v3.4 M466.82,282.0 v-3.4 M466.82,2.5 v3.4 M490.05,282.0 v-3.4 M490.05,2.5 v3.4 M513.27,282.0 v-3.4 M513.27,2.5 v3.4 M536.50,282.0 v-5.4 M536.50,2.5 v5.4 M62.5,274.00 h5.4 M546.5,274.00 h-5.4 M62.5,260.82 h3.4 M546.5,260.82 h-3.4 M62.5,247.65 h3.4 M546.5,247.65 h-3.4 M62.5,234.47 h3.4 M546.5,234.47 h-3.4 M62.5,221.30 h5.4 M546.5,221.30 h-5.4 M62.5,208.12 h3.4 M546.5,208.12 h-3.4 M62.5,194.95 h3.4 M546.5,194.95 h-3.4 M62.5,181.77 h3.4 M546.5,181.77 h-3.4 M62.5,168.60 h5.4 M546.5,168.60 h-5.4 M62.5,155.43 h3.4 M546.5,155.43 h-3.4 M62.5,142.25 h3.4 M546.5,142.25 h-3.4 M62.5,129.07 h3.4 M546.5,129.07 h-3.4 M62.5,115.90 h5.4 M546.5,115.90 h-5.4 M62.5,102.72 h3.4 M546.5,102.72 h-3.4 M62.5,89.55 h3.4 M546.5,89.55 h-3.4 M62.5,76.38 h3.4 M546.5,76.38 h-3.4 M62.5,63.20 h5.4 M546.5,63.20 h-5.4 M62.5,50.02 h3.4 M546.5,50.02 h-3.4 M62.5,36.85 h3.4 M546.5,36.85 h-3.4 M62.5,23.67 h3.4 M546.5,23.67 h-3.4 M62.5,10.50 h5.4 M546.5,10.50 h-5.4" stroke="#707070" stroke-width="1" fill="none"/>
<g class="t" fill="#000" opacity="0.97">
<text transform="translate(58.6,279.5) scale(1.055,1)" text-anchor="end" font-size="21" >0.0</text>
<text transform="translate(58.6,226.8) scale(1.055,1)" text-anchor="end" font-size="21" >0.2</text>
<text transform="translate(58.6,174.1) scale(1.055,1)" text-anchor="end" font-size="21" >0.4</text>
<text transform="translate(58.6,121.4) scale(1.055,1)" text-anchor="end" font-size="21" >0.6</text>
<text transform="translate(58.6,68.7) scale(1.055,1)" text-anchor="end" font-size="21" >0.8</text>
<text transform="translate(58.6,16.0) scale(1.055,1)" text-anchor="end" font-size="21" >1.0</text>
<text transform="translate(72.0,301.3) scale(1.055,1)" text-anchor="middle" font-size="21" >0</text>
<text transform="translate(188.12,301.3) scale(1.055,1)" text-anchor="middle" font-size="21" >50</text>
<text transform="translate(304.25,301.3) scale(1.055,1)" text-anchor="middle" font-size="21" >100</text>
<text transform="translate(420.37,301.3) scale(1.055,1)" text-anchor="middle" font-size="21" >150</text>
<text transform="translate(536.5,301.3) scale(1.055,1)" text-anchor="middle" font-size="21" >200</text>
<text transform="translate(304.3,330.3) scale(1.1,1)" text-anchor="middle" font-size="20" >Scaled time</text>
<g transform="translate(16.7,175.4) rotate(-90)">
<text transform="translate(-0.3,0) scale(1.05,1)" text-anchor="start" font-size="20" >CN(</text>
<text transform="translate(33.8,0) scale(1.05,1)" text-anchor="start" font-size="20" >t,</text>
<text transform="translate(47.0,-0.4) scale(1.38,1)" text-anchor="start" font-size="21" font-style="italic">γ</text>
<text transform="translate(60.6,0) scale(1.15,1)" text-anchor="start" font-size="20" >)</text>
</g>
<line x1="294.1" y1="129.5" x2="315.90000000000003" y2="129.5" stroke="#00AA00" stroke-opacity="0.4" stroke-width="2.4"/>
<line x1="294.1" y1="129.5" x2="315.90000000000003" y2="129.5" stroke="#00AA00" stroke-width="2" stroke-dasharray="1.7 1.2"/>
<text transform="translate(317.1,133.0) scale(1.35,1)" text-anchor="start" font-size="17.5" font-style="italic">γ</text>
<text transform="translate(332.3,134.9) scale(1.05,1)" text-anchor="start" font-size="17.5" >=</text>
<text transform="translate(373.0,132.4) scale(1.1,1)" text-anchor="end" font-size="17.5" >1.0</text>
<line x1="375.2" y1="129.5" x2="397.0" y2="129.5" stroke="#0000AA" stroke-opacity="0.4" stroke-width="2.4"/>
<line x1="375.2" y1="129.5" x2="397.0" y2="129.5" stroke="#0000AA" stroke-width="2" stroke-dasharray="1.7 1.2"/>
<text transform="translate(398.2,133.0) scale(1.35,1)" text-anchor="start" font-size="17.5" font-style="italic">γ</text>
<text transform="translate(413.4,134.9) scale(1.05,1)" text-anchor="start" font-size="17.5" >=</text>
<text transform="translate(454.1,132.4) scale(1.1,1)" text-anchor="end" font-size="17.5" >2.0</text>
<line x1="456.3" y1="129.5" x2="478.1" y2="129.5" stroke="#FF0000" stroke-opacity="0.4" stroke-width="2.4"/>
<line x1="456.3" y1="129.5" x2="478.1" y2="129.5" stroke="#FF0000" stroke-width="2" stroke-dasharray="1.7 1.2"/>
<text transform="translate(479.3,133.0) scale(1.35,1)" text-anchor="start" font-size="17.5" font-style="italic">γ</text>
<text transform="translate(494.5,134.9) scale(1.05,1)" text-anchor="start" font-size="17.5" >=</text>
<text transform="translate(535.2,132.4) scale(1.1,1)" text-anchor="end" font-size="17.5" >3.0</text>
<line x1="294.1" y1="153.1" x2="315.90000000000003" y2="153.1" stroke="#AAAA00" stroke-opacity="0.4" stroke-width="2.4"/>
<line x1="294.1" y1="153.1" x2="315.90000000000003" y2="153.1" stroke="#AAAA00" stroke-width="2" stroke-dasharray="1.7 1.2"/>
<text transform="translate(317.1,156.9) scale(1.35,1)" text-anchor="start" font-size="17.5" font-style="italic">γ</text>
<text transform="translate(332.3,158.8) scale(1.05,1)" text-anchor="start" font-size="17.5" >=</text>
<text transform="translate(373.0,156.3) scale(1.1,1)" text-anchor="end" font-size="17.5" >4.0</text>
<line x1="375.2" y1="153.1" x2="397.0" y2="153.1" stroke="#FFAA55" stroke-opacity="0.4" stroke-width="2.4"/>
<line x1="375.2" y1="153.1" x2="397.0" y2="153.1" stroke="#FFAA55" stroke-width="2" stroke-dasharray="1.7 1.2"/>
<text transform="translate(398.2,156.9) scale(1.35,1)" text-anchor="start" font-size="17.5" font-style="italic">γ</text>
<text transform="translate(413.4,158.8) scale(1.05,1)" text-anchor="start" font-size="17.5" >=</text>
<text transform="translate(454.1,156.3) scale(1.1,1)" text-anchor="end" font-size="17.5" >5.0</text>
</g>
</svg>
</body></html>
